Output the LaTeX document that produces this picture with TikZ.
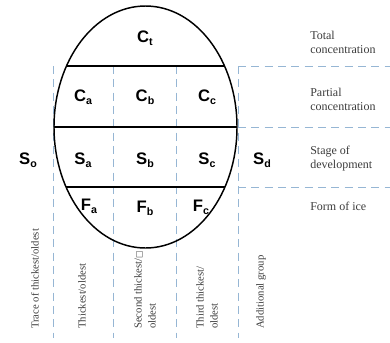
\documentclass[tikz,border=0pt]{standalone}
\usepackage{fontspec}
\setmainfont{Liberation Serif}
\setsansfont{Liberation Sans}
\newfontfamily\symfont{DejaVu Sans}
\definecolor{gridblue}{RGB}{150,182,212}
\definecolor{desctext}{RGB}{60,60,60}
\newcommand{\iceclass}[2]{{\sffamily\bfseries\fontsize{12.5}{14}\selectfont #1\raisebox{-0.35ex}{\fontsize{8}{9}\selectfont #2}}}

\begin{document}
\begin{tikzpicture}[x=0.75pt,y=-0.75pt]
 \tikzset{grid/.style={draw=gridblue,line width=0.6pt,dash pattern=on 6pt off 4pt},
   chord/.style={line width=1.1pt},
   desc/.style={anchor=west,align=left,inner sep=0pt,text=desctext,font=\fontsize{9}{10.5}\selectfont},
   group/.style={rotate=90,anchor=west,align=left,inner sep=0pt,text=desctext,font=\fontsize{8}{10.5}\selectfont}}
 \useasboundingbox (0,0) rectangle (390,343);

 % dashed grid
 \foreach \x in {53,113,176,238}
   \draw[grid] (\x,66) -- (\x,338);
 \foreach \y in {66,127,187}
   \draw[grid] (238,\y) -- (390,\y);

 % egg and its rows
 \begin{scope}
  \clip (145.5,127) ellipse [x radius=91.5, y radius=121];
  \foreach \y in {66,127,187}
    \draw[chord] (40,\y) -- (250,\y);
 \end{scope}
 \draw[chord] (145.5,127) ellipse [x radius=91.5, y radius=121];

 \node (Ct) at (145,38) {\iceclass{C}{t}};
 \node (Ca) at (83,97) {\iceclass{C}{a}};
 \node (Cb) at (145,97) {\iceclass{C}{b}};
 \node (Cc) at (207,97) {\iceclass{C}{c}};
 \node (So) at (28,160) {\iceclass{S}{o}};
 \node (Sa) at (83,160) {\iceclass{S}{a}};
 \node (Sb) at (145,160) {\iceclass{S}{b}};
 \node (Sc) at (207,160) {\iceclass{S}{c}};
 \node (Sd) at (262,160) {\iceclass{S}{d}};
 \node (Fa) at (89,206) {\iceclass{F}{a}};
 \node (Fb) at (145,208) {\iceclass{F}{b}};
 \node (Fc) at (201,207) {\iceclass{F}{c}};

 \node[desc] (total) at (310,42) {Total\\concentration};
 \node[desc] (partial) at (310,99) {Partial\\concentration};
 \node[desc] (stage) at (310,159) {Stage of\\development};
 \node[desc] (form) at (310,206) {Form of ice};

 \node[group] (trace) at (35,329) {Trace of thickest/oldest};
 \node[group] (first) at (82,329) {Thickest/oldest};
 \node[group] (second) at (145,329) {Second thickest/{\symfont\fontsize{6}{7}\selectfont □}\\oldest};
 \node[group] (third) at (207,329) {Third thickest/\\oldest};
 \node[group] (extra) at (261,329) {Additional group};
\end{tikzpicture}
\end{document}
